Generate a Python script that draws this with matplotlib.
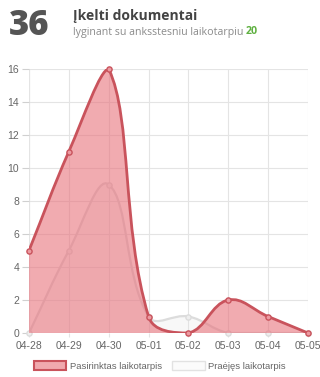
import numpy as np
import matplotlib
matplotlib.use("Agg")
import matplotlib.pyplot as plt
from matplotlib.path import Path
from matplotlib.patches import PathPatch, Patch

# chart data
dates = ["04-28", "04-29", "04-30", "05-01", "05-02", "05-03", "05-04", "05-05"]
selected = [5, 11, 16, 1, 0, 2, 1, 0]
previous = [0, 5, 9, 1, 1, 0, 0, 0]
y_ticks = [0, 2, 4, 6, 8, 10, 12, 14, 16]

total_now = "36"
total_before = "20"
title = "Įkelti dokumentai"
subtitle = "lyginant su anksstesniu laikotarpiu"
legend_labels = ["Pasirinktas laikotarpis", "Praėjęs laikotarpis"]

plt.rcParams["font.family"] = ["Liberation Sans", "DejaVu Sans"]

fig = plt.figure(figsize=(3.2, 3.77), dpi=100)
ax = fig.add_axes([29 / 320, 1 - 333 / 377, 279 / 320, 264 / 377])
x = np.arange(len(dates))
ax.set_xlim(0, len(dates) - 1)
ax.set_ylim(0, 16)


def spline_path(xs, ys, tension=0.4):
    # chart.js style bezier smoothing, worked out in pixel space
    pts = ax.transData.transform(np.column_stack([xs, ys]))
    lo = ax.transData.transform((0, 0))
    hi = ax.transData.transform((len(dates) - 1, 16))
    n = len(pts)
    cp_prev = pts.copy()
    cp_next = pts.copy()
    for i in range(n):
        p0 = pts[i - 1] if i > 0 else pts[i]
        p1 = pts[i]
        p2 = pts[i + 1] if i < n - 1 else pts[i]
        d01 = np.hypot(*(p1 - p0))
        d12 = np.hypot(*(p2 - p1))
        s = d01 + d12
        s01 = d01 / s if s else 0
        s12 = d12 / s if s else 0
        cp_prev[i] = p1 - tension * s01 * (p2 - p0)
        cp_next[i] = p1 + tension * s12 * (p2 - p0)
    for arr in (cp_prev, cp_next):
        arr[:, 0] = np.clip(arr[:, 0], lo[0], hi[0])
        arr[:, 1] = np.clip(arr[:, 1], lo[1], hi[1])
    inv = ax.transData.inverted()
    verts = [pts[0]]
    codes = [Path.MOVETO]
    for i in range(n - 1):
        verts += [cp_next[i], cp_prev[i + 1], pts[i + 1]]
        codes += [Path.CURVE4] * 3
    return inv.transform(np.array(verts)), codes


def draw_series(vals, line_col, fill_col, mark_face, z, lw=2):
    verts, codes = spline_path(x, vals)
    fill_verts = list(verts) + [(x[-1], 0), (x[0], 0), verts[0]]
    fill_codes = codes + [Path.LINETO, Path.LINETO, Path.CLOSEPOLY]
    ax.add_patch(PathPatch(Path(fill_verts, fill_codes), facecolor=fill_col,
                           edgecolor="none", zorder=z + 0.7))
    ax.add_patch(PathPatch(Path(verts, codes), facecolor="none",
                           edgecolor=line_col, lw=lw, zorder=z + 0.8,
                           capstyle="round", joinstyle="round"))
    ax.scatter(x, vals, s=14, facecolor=mark_face, edgecolor=line_col,
               linewidth=1, zorder=z + 0.9, clip_on=False)


# chart.js paints the first dataset on top
draw_series(previous, "#dcdcdc", (0.88, 0.88, 0.88, 0.2), "#eeeeee", 1, lw=1.6)
draw_series(selected, "#c9535c", (0.91, 0.43, 0.47, 0.58), "#ec9aa1", 2)

ax.set_xticks(x)
ax.set_xticklabels(dates)
ax.set_yticks(y_ticks)
ax.grid(True, color="#e4e4e4", lw=0.8, zorder=0.5)
for sp in ax.spines.values():
    sp.set_visible(False)
ax.axhline(0, color="#d0d0d0", lw=0.8, zorder=0.6)
ax.axvline(0, color="#e4e4e4", lw=0.8, zorder=0.6)
ax.tick_params(axis="y", length=5, width=0.8, color="#d0d0d0", pad=2,
               labelsize=7.5, labelcolor="#666666")
ax.tick_params(axis="x", length=3, width=0.8, color="#e4e4e4", pad=3,
               labelsize=7.5, labelcolor="#666666")

# header
fig.text(9 / 320, 1 - 26 / 377, total_now, fontsize=25, fontweight="heavy",
         color="#555555", va="center", family=["Open Sans", "DejaVu Sans"])
fig.text(73 / 320, 1 - 16 / 377, title, fontsize=10, fontweight="bold",
         color="#444444", va="center", family=["Open Sans", "DejaVu Sans"])
sub = fig.text(73 / 320, 1 - 32 / 377, subtitle + " ", fontsize=7.7,
               color="#8a8a8a", va="center", family=["Open Sans", "DejaVu Sans"])
fig.canvas.draw()
bb = sub.get_window_extent()
fig.text(bb.x1 / 320, 1 - 32 / 377, total_before, fontsize=7.7,
         fontweight="bold", color="#5fb041", va="center",
         family=["Open Sans", "DejaVu Sans"])

# legend
handles = [Patch(facecolor="#f0a9ae", edgecolor="#c9535c", lw=1.5),
           Patch(facecolor="#fbfbfb", edgecolor="#e2e2e2", lw=1)]
fig.legend(handles, legend_labels, loc="center", bbox_to_anchor=(0.5, 1 - 366 / 377),
           ncol=2, frameon=False, fontsize=6.8, handlelength=3.4, handleheight=1.1,
           columnspacing=1.1, handletextpad=0.4, labelcolor="#666666")

fig.savefig("out.png", dpi=100)
